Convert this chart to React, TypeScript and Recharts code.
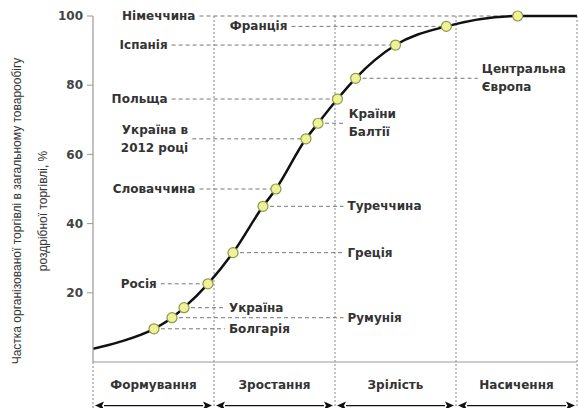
import { ComposedChart, Line, XAxis, YAxis, ReferenceLine } from 'recharts';

// країни на S-кривій розвитку організованої торгівлі
const countries = [
  'Болгарія', 'Румунія', 'Україна', 'Росія', 'Греція', 'Туреччина', 'Словаччина',
  'Україна в 2012 році', 'Країни Балтії', 'Польща', 'Центральна Європа', 'Іспанія', 'Франція', 'Німеччина',
];
// положення на осі стадій (0..4)
const stagePos = [0.504, 0.653, 0.752, 0.95, 1.157, 1.405, 1.512, 1.76, 1.86, 2.02, 2.17, 2.5, 2.92, 3.51];
// частка організованої торгівлі, %
const share = [9.6, 12.8, 15.7, 22.6, 31.6, 45, 50, 64.5, 69, 76, 82, 91.6, 97, 100];

// кінці кривої без маркерів
const curveStart = [{ x: 0, y: 3.8 }, { x: 0.22, y: 5.8 }];
const curveEnd = [{ x: 4, y: 100 }];

const phases = ['Формування', 'Зростання', 'Зрілість', 'Насичення'];
const phaseTicks = [0.5, 1.5, 2.5, 3.5];
const yTicks = [20, 40, 60, 80, 100];

// підписи: які рядки, з якого боку, від/до якої позиції йде пунктир
const guides = [
  { name: 'Німеччина', lines: ['Німеччина'], side: 'left', from: 0.88 },
  { name: 'Франція', lines: ['Франція'], side: 'left', from: 1.64 },
  { name: 'Іспанія', lines: ['Іспанія'], side: 'left', from: 0.65 },
  { name: 'Польща', lines: ['Польща'], side: 'left', from: 0.65 },
  { name: 'Україна в 2012 році', lines: ['Україна в', '2012 році'], side: 'left', from: 0.82 },
  { name: 'Словаччина', lines: ['Словаччина'], side: 'left', from: 0.88 },
  { name: 'Росія', lines: ['Росія'], side: 'left', from: 0.56 },
  { name: 'Україна', lines: ['Україна'], side: 'right', to: 1.09 },
  { name: 'Болгарія', lines: ['Болгарія'], side: 'right', to: 1.09 },
  { name: 'Румунія', lines: ['Румунія'], side: 'right', to: 2.07 },
  { name: 'Греція', lines: ['Греція'], side: 'right', to: 2.07 },
  { name: 'Туреччина', lines: ['Туреччина'], side: 'right', to: 2.07 },
  { name: 'Країни Балтії', lines: ['Країни', 'Балтії'], side: 'right', to: 2.08 },
  { name: 'Центральна Європа', lines: ['Центральна', 'Європа'], side: 'right', to: 3.18 },
];

const points = countries.map((name, i) => ({ name, x: stagePos[i], y: share[i] }));
const curve = [...curveStart, ...points, ...curveEnd];

const labelFont = 'DejaVu Sans, Verdana, sans-serif';

function GuideText(props: any) {
  const { viewBox, lines, side } = props;
  const right = side === 'right';
  const x = right ? viewBox.x + viewBox.width + 4 : viewBox.x - 4;
  const cy = viewBox.y + viewBox.height / 2;
  const lh = 18;
  const y0 = cy - ((lines.length - 1) * lh) / 2;
  return (
    <text x={x} textAnchor={right ? 'start' : 'end'} fontFamily={labelFont} fontSize={12} fontWeight="bold" fill="#333">
      {lines.map((t: string, i: number) => (
        <tspan key={i} x={x} y={y0 + i * lh} dominantBaseline="central">{t}</tspan>
      ))}
    </text>
  );
}

function PhaseTick(props: any) {
  const { x, y, payload } = props;
  return (
    <text x={x} y={y + 19} textAnchor="middle" fontFamily={labelFont} fontSize={12} fontWeight="bold" fill="#333">
      {phases[Math.floor(payload.value)]}
    </text>
  );
}

function DoubleArrow(props: any) {
  const { x1, y1, x2 } = props;
  const a = 9;
  const h = 4;
  const l = x1 + 2;
  const r = x2 - 2;
  return (
    <g>
      <line x1={l + a} y1={y1} x2={r - a} y2={y1} stroke="#111" strokeWidth={1.3} />
      <polygon points={`${l},${y1} ${l + a},${y1 - h} ${l + a - 2},${y1} ${l + a},${y1 + h}`} fill="#111" />
      <polygon points={`${r},${y1} ${r - a},${y1 - h} ${r - a + 2},${y1} ${r - a},${y1 + h}`} fill="#111" />
    </g>
  );
}

function YTitle(props: any) {
  const { viewBox } = props;
  const cy = viewBox.y + viewBox.height / 2 + 22;
  const x1 = viewBox.x - 16;
  const x2 = viewBox.x + 10;
  return (
    <g fontFamily="Liberation Sans, Arial, sans-serif" fontSize={12} fill="#333" textAnchor="middle">
      <text x={x1} y={cy} transform={`rotate(-90 ${x1} ${cy})`} dominantBaseline="central">
        Частка організованої торгівлі в загальному товарообігу
      </text>
      <text x={x2} y={cy} transform={`rotate(-90 ${x2} ${cy})`} dominantBaseline="central">
        роздрібної торгівлі, %
      </text>
    </g>
  );
}

function Marker(props: any) {
  const { cx, cy, payload, index } = props;
  if (!payload.name) return <g key={index} />;
  return <circle key={index} cx={cx} cy={cy} r={5} fill="#eef39a" stroke="#8f9a4a" strokeWidth={1.2} />;
}

export default function App() {
  return (
    <div style={{ position: 'absolute', left: 0, top: 0, width: 579, height: 408, background: '#fff' }}>
      <ComposedChart width={579} height={408} data={curve} margin={{ top: 16, right: 2, bottom: 6, left: 33 }}>
        <XAxis
          dataKey="x"
          type="number"
          domain={[0, 4]}
          ticks={phaseTicks}
          tick={<PhaseTick />}
          tickLine={false}
          axisLine={{ stroke: '#999', strokeWidth: 1.2 }}
          height={40}
          allowDataOverflow
        />
        <YAxis
          type="number"
          domain={[0, 100]}
          ticks={yTicks}
          width={60}
          tickSize={6}
          tickMargin={4}
          axisLine={{ stroke: '#999', strokeWidth: 1.2 }}
          tickLine={{ stroke: '#999' }}
          tick={{ fontFamily: labelFont, fontSize: 12, fontWeight: 'bold', fill: '#444' }}
          label={<YTitle />}
        />
        {[0, 1, 2, 3, 4].map((k) => (
          <ReferenceLine
            key={'v' + k}
            segment={[{ x: k, y: k === 0 ? 0 : 100 }, { x: k, y: -13.5 }]}
            stroke="#888"
            strokeDasharray="2 2"
            ifOverflow="visible"
          />
        ))}
        {[0, 1, 2, 3].map((k) => (
          <ReferenceLine
            key={'a' + k}
            segment={[{ x: k, y: -12.6 }, { x: k + 1, y: -12.6 }]}
            ifOverflow="visible"
            shape={<DoubleArrow />}
          />
        ))}
        {guides.map((g) => {
          const p = points.find((q) => q.name === g.name)!;
          const x1 = g.side === 'left' ? g.from! : p.x;
          const x2 = g.side === 'left' ? p.x : g.to!;
          return (
            <ReferenceLine
              key={g.name}
              segment={[{ x: x1, y: p.y }, { x: x2, y: p.y }]}
              stroke="#777"
              strokeDasharray="4 3"
              ifOverflow="visible"
              label={<GuideText lines={g.lines} side={g.side} />}
            />
          );
        })}
        <Line
          type="monotone"
          dataKey="y"
          stroke="#111"
          strokeWidth={2.5}
          dot={<Marker />}
          activeDot={false}
          isAnimationActive={false}
        />
      </ComposedChart>
    </div>
  );
}
